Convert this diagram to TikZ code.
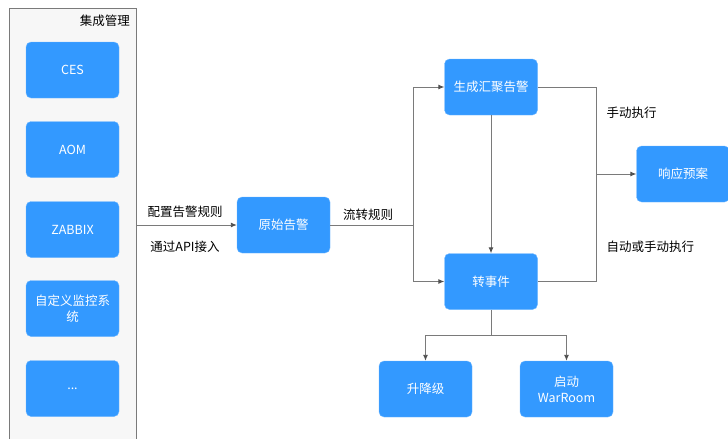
\documentclass[tikz,border=0pt]{standalone}
\usepackage{fontspec}
\setmainfont{Noto Sans CJK SC}
\usetikzlibrary{arrows.meta}
\definecolor{boxblue}{HTML}{3399FF}
\definecolor{panelgray}{HTML}{F7F7F7}
\definecolor{linegray}{HTML}{7A7A7A}
\definecolor{tipgray}{HTML}{505050}
\begin{document}
\begin{tikzpicture}[x=1pt, y=-1pt, every node/.style={align=center, font=\fontsize{12.5}{16}\selectfont},
  blockbox/.style={fill=boxblue, draw=boxblue!70!white, rounded corners=5pt, minimum width=93pt, minimum height=56pt, inner sep=0pt, text=white},
  link/.style={draw=linegray, line width=0.9pt},
  arr/.style={link, -{Latex[length=6pt,width=5pt,color=tipgray]}}]
  \useasboundingbox (0,0) rectangle (728,439);

  % Integration panel
  \fill[panelgray] (9,8) rectangle (136,439);
  \draw[linegray, line width=0.9pt] (9,439) -- (9,8) -- (136,8) -- (136,439);
  \node[anchor=north east, inner sep=0pt] (paneltitle) at (130,15) {集成管理};
  \node[blockbox] (ces) at (72.5,70) {CES};
  \node[blockbox] (aom) at (72.5,149.5) {AOM};
  \node[blockbox] (zabbix) at (72.5,229.5) {ZABBIX};
  \node[blockbox, text width=90pt] (custom) at (72.5,308.5) {自定义监控系\\统};
  \node[blockbox] (more) at (72.5,388.5) {...};

  % Alarm flow
  \node[blockbox] (raw) at (283.5,225) {原始告警};
  \node[blockbox] (agg) at (491,87) {生成汇聚告警};
  \node[blockbox] (evt) at (491,281.5) {转事件};
  \node[blockbox] (plan) at (683,174) {响应预案};
  \node[blockbox] (lvl) at (425.5,389) {升降级};
  \node[blockbox] (war) at (566.5,389) {启动\\WarRoom};

  \coordinate (panelout) at (136,225);
  \coordinate (split) at (413,225);
  \coordinate (join) at (596,174);
  \coordinate (fork) at (491,335);

  \draw[arr] (panelout) -- (raw.west);
  \node (cfglabel) at (185,212) {配置告警规则};
  \node (apilabel) at (185,247) {通过API接入};

  \draw[link] (raw.east) -- (split);
  \node (flowlabel) at (368,215) {流转规则};
  \draw[arr] (split) |- (agg.west);
  \draw[arr] (split) |- (evt.west);
  \draw[arr] (agg.south) -- (evt.north);

  \draw[link] (agg.east) -| (join);
  \draw[link] (evt.east) -| (join);
  \draw[arr] (join) -- (plan.west);
  \node[anchor=west] (manlabel) at (603,113) {手动执行};
  \node[anchor=west] (autolabel) at (603,247) {自动或手动执行};

  \draw[link] (evt.south) -- (fork);
  \draw[arr] (fork) -| (lvl.north);
  \draw[arr] (fork) -| (war.north);
\end{tikzpicture}
\end{document}
